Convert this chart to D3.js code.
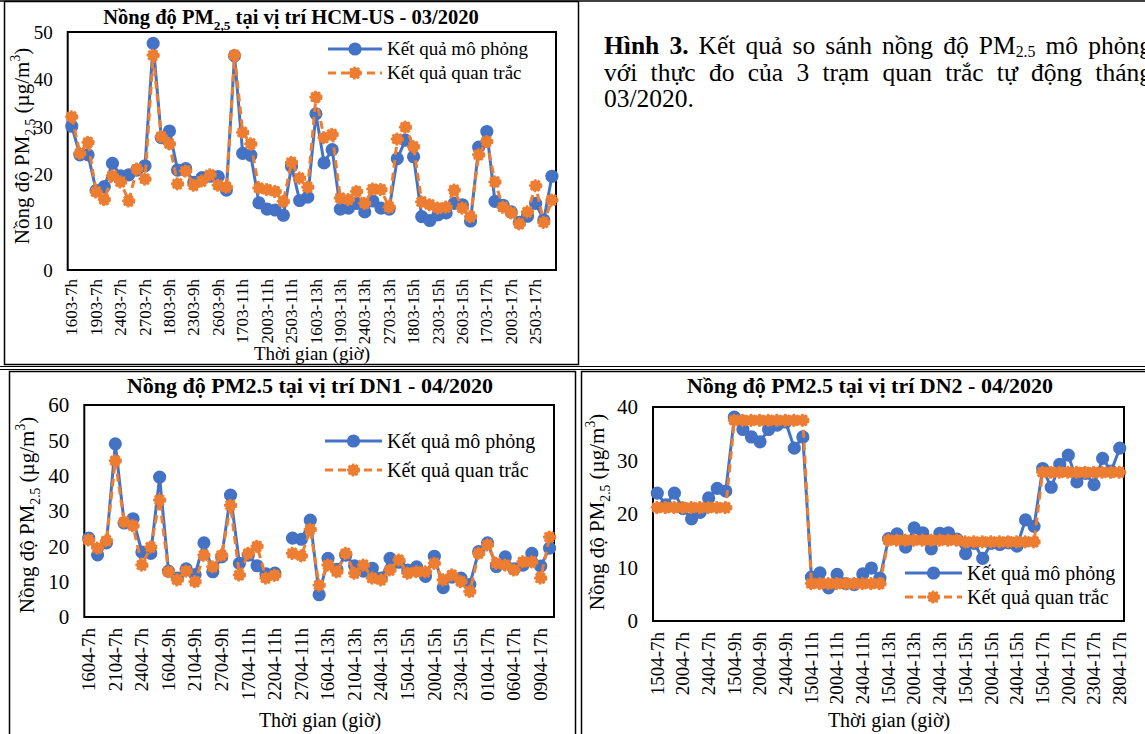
<!DOCTYPE html>
<html>
<head>
<meta charset="utf-8">
<script src="https://cdn.jsdelivr.net/npm/d3@7"></script>
<style>
body{margin:0;width:1145px;height:734px;overflow:hidden;background:#fff;position:relative;font-family:"Liberation Serif","Times New Roman",serif;}
svg{position:absolute;left:0;top:0;}
#caption{position:absolute;left:604px;top:33px;width:548px;font-size:25.5px;line-height:26.5px;text-align:justify;color:#000;}
#caption sub{font-size:0.62em;vertical-align:-0.2em;line-height:0;}
</style>
</head>
<body>
<svg id="fig" width="1145" height="734"></svg>
<div id="caption"><b>Hình 3.</b> Kết quả so sánh nồng độ PM<sub>2.5</sub> mô phỏng với thực đo của 3 trạm quan trắc tự động tháng 03/2020.</div>
<script>
// ---- HCM-US, 03/2020 ----
var hcmCats = [
  "1603-7h","1703-7h","1803-7h","1903-7h","2003-7h","2303-7h","2403-7h","2503-7h","2603-7h","2703-7h",
  "1603-9h","1703-9h","1803-9h","1903-9h","2003-9h","2303-9h","2403-9h","2503-9h","2603-9h","2703-9h",
  "1603-11h","1703-11h","1803-11h","1903-11h","2003-11h","2303-11h","2403-11h","2503-11h","2603-11h","2703-11h",
  "1603-13h","1703-13h","1803-13h","1903-13h","2003-13h","2303-13h","2403-13h","2503-13h","2603-13h","2703-13h",
  "1603-15h","1703-15h","1803-15h","1903-15h","2003-15h","2303-15h","2403-15h","2503-15h","2603-15h","2703-15h",
  "1603-17h","1703-17h","1803-17h","1903-17h","2003-17h","2303-17h","2403-17h","2503-17h","2603-17h","2703-17h"
];
var hcmModel = [30.2,24.2,24.2,16.7,17.5,22.4,19.8,20,21,21.9,
  47.6,27.8,29.2,21,21.3,18.4,19.4,19.7,19.6,16.8,
  45,24.5,24.1,14.1,12.8,12.6,11.5,21.8,14.6,15.3,
  32.8,22.5,25.3,12.8,13,14,12.2,14.5,13,12.8,
  23.4,27.3,23.8,11.2,10.4,11.6,12,14,13.7,10.3,
  25.8,29.1,14.4,13.6,12.2,10,11.3,14,10.5,19.7];
var hcmObs = [32.2,24.5,26.8,16.4,14.8,19.8,18.5,14.5,21.2,19.1,
  45.1,28,26.5,18.1,20.8,17.8,18.7,20,17.8,17.4,
  45.1,28.9,26.5,17.2,16.9,16.5,14.4,22.6,19.3,17.4,
  36.3,27.8,28.5,15.1,14.8,16.5,14,17,16.9,13.2,
  27.5,30,25.9,14.3,13.7,13,13.2,16.8,13,11.2,
  24.2,27,18.5,13.2,12,9.7,12.2,17.7,10,14.7];
var hcmYTicks = [0,10,20,30,40,50];

// ---- DN1, 04/2020 ----
var dn1Cats = [
  "1604-7h","1704-7h","2004-7h","2104-7h","2204-7h","2304-7h","2404-7h","2704-7h","2804-7h",
  "1604-9h","1704-9h","2004-9h","2104-9h","2204-9h","2404-9h","2704-9h","2804-9h",
  "1604-11h","1704-11h","2004-11h","2104-11h","2204-11h","2304-11h","2404-11h","2704-11h","2804-11h","2904-11h",
  "1604-13h","1704-13h","2004-13h","2104-13h","2204-13h","2304-13h","2404-13h","2704-13h","2804-13h",
  "1504-15h","1604-15h","1704-15h","2004-15h","2104-15h","2204-15h","2304-15h","2404-15h","2704-15h",
  "0104-17h","0204-17h","0304-17h","0604-17h","0704-17h","0804-17h","0904-17h","1004-17h"
];
var dn1Model = [22.3,17.6,21,49,26.6,27.8,18.4,18,39.6,13,
  11,13.6,12,21,12.8,17,34.5,15.2,17.5,14.5,
  12.2,12.4,null,22.3,22,27.4,6.3,16.6,13.5,17.5,
  14.5,13,13.8,11,16.6,15.5,13.3,14.2,11.5,17.2,
  8.3,11.3,11,9.2,18.5,21,14.3,17,13.6,14.7,
  18,14.4,19.5];
var dn1Obs = [21.8,19.5,21.6,44.2,26.9,25.8,14.7,19.8,33.1,12.8,
  10.5,13,10,17.5,14.2,17.5,31.6,11.9,18,20,
  11,11.8,null,18,17.3,24.8,9,14.7,12.8,18,
  12.4,14.7,11,10.5,13.3,16.1,12.4,12.8,12.8,15.2,
  10.5,11.9,10,7.2,18,20.4,15.2,14.7,13.3,15.6,
  15.6,11,22.6];
var dn1YTicks = [0,10,20,30,40,50,60];

// ---- DN2, 04/2020 ----
var dn2Cats = [
  "1504-7h","1604-7h","1704-7h","2004-7h","2104-7h","2204-7h","2404-7h","2704-7h","2804-7h",
  "1504-9h","1604-9h","1704-9h","2004-9h","2104-9h","2204-9h","2404-9h","2704-9h","2804-9h",
  "1504-11h","1604-11h","1704-11h","2004-11h","2104-11h","2204-11h","2404-11h","2704-11h","2804-11h",
  "1504-13h","1604-13h","1704-13h","2004-13h","2104-13h","2204-13h","2404-13h","2704-13h","2804-13h",
  "1504-15h","1604-15h","1704-15h","2004-15h","2104-15h","2204-15h","2404-15h","2704-15h","2804-15h",
  "1504-17h","1604-17h","1704-17h","2004-17h","2104-17h","2204-17h","2304-17h","2404-17h","2704-17h","2804-17h"
];
var dn2Model = [23.9,21.7,23.9,21,19.1,20.3,23,24.8,24.3,
  38.1,35.8,34.4,33.5,35.8,36.6,37.2,32.3,34.4,
  8.2,9,6.2,8.7,7,6.8,8.8,9.9,8,
  15.4,16.3,13.8,17.4,16.5,13.5,16.4,16.5,15.3,
  12.6,14.5,11.7,14.5,14.3,14.6,14,18.9,17.7,
  28.5,25,29.3,31,26,27.6,25.5,30.4,28,32.3];
var dn2Obs = [21.2,21.2,21.2,21.2,21.2,21.2,21.2,21.2,21.2,
  37.5,37.5,37.5,37.5,37.5,37.5,37.5,37.5,37.5,
  7,7,7,7,7,7,7,7,7,
  15.1,15.1,15.1,15.1,15.1,15.1,15.1,15.1,15.1,
  14.8,14.8,14.8,14.8,14.8,14.8,14.8,14.8,14.8,
  27.8,27.8,27.8,27.8,27.8,27.8,27.8,27.8,27.8,27.8];
var dn2YTicks = [0,10,20,30,40];

var seriesNames = ["Kết quả mô phỏng", "Kết quả quan trắc"];
var xTitle = "Thời gian (giờ)";

var BLUE = "#4472C4", ORANGE = "#ED7D31";

var svg = d3.select("#fig").attr("font-family","Liberation Serif");

// frames of the word table
svg.append("line").attr("x1",0).attr("x2",1145).attr("y1",1).attr("y2",1).attr("stroke","#000").attr("stroke-width",1.5);
svg.append("rect").attr("x",4.5).attr("y",1.5).attr("width",574).attr("height",363).attr("fill","none").attr("stroke","#000").attr("stroke-width",1.5);
svg.append("line").attr("x1",0).attr("x2",1145).attr("y1",366.5).attr("y2",366.5).attr("stroke","#000").attr("stroke-width",1);
svg.append("line").attr("x1",0).attr("x2",1145).attr("y1",369.5).attr("y2",369.5).attr("stroke","#000").attr("stroke-width",1);
svg.append("rect").attr("x",9.5).attr("y",371.5).attr("width",566).attr("height",370).attr("fill","none").attr("stroke","#000").attr("stroke-width",1.5);
svg.append("rect").attr("x",581.5).attr("y",371.5).attr("width",570).attr("height",370).attr("fill","none").attr("stroke","#000").attr("stroke-width",1.5);

function rich(txt, parts, fs){
  var shift = 0;
  parts.forEach(function(p){
    var t = txt.append("tspan").text(p[0]);
    var target = 0;
    if(p[1]==="sub"){ target = 0.3*fs; t.attr("font-size", (fs*0.65)+"px"); }
    if(p[1]==="sup"){ target = -0.42*fs; t.attr("font-size", (fs*0.65)+"px"); }
    if(target !== shift){ t.attr("dy", target - shift); shift = target; }
  });
}

function drawChart(c){
  var g = svg.append("g");
  var x = d3.scaleBand().domain(c.cats).range([c.left, c.right]);
  var y = d3.scaleLinear().domain([0, c.yMax]).range([c.bottom, c.top]);

  // y axis labels
  var ya = g.append("g").attr("transform","translate("+c.left+",0)")
    .call(d3.axisLeft(y).tickValues(c.yTicks).tickSize(0).tickPadding(15));
  ya.attr("font-family","Liberation Serif");
  ya.select(".domain").remove();
  ya.selectAll("text").attr("font-size",c.tickFs).attr("fill","#000");

  // x axis labels, every 3rd category
  var xa = g.append("g").attr("transform","translate(0,"+c.bottom+")")
    .call(d3.axisBottom(x).tickValues(c.cats.filter(function(d,i){ return i%3===0; })).tickSize(0));
  xa.attr("font-family","Liberation Serif");
  xa.select(".domain").remove();
  xa.selectAll("text")
    .attr("font-size",c.xFs).attr("fill","#000")
    .attr("text-anchor","end").attr("dy","0.33em")
    .attr("transform","translate(0,"+c.xPad+") rotate(-90)")
    .attr("y",0).attr("x",0);

  // plot frame
  g.append("rect").attr("x",c.left).attr("y",c.top).attr("width",c.right-c.left).attr("height",c.bottom-c.top)
    .attr("fill","none").attr("stroke","#000").attr("stroke-width",2);

  var cx = function(i){ return x(c.cats[i]) + x.bandwidth()/2; };
  var line = d3.line().defined(function(d){ return d!==null; })
    .x(function(d,i){ return cx(i); }).y(function(d){ return y(d); });

  [[c.model, BLUE, null],[c.obs, ORANGE, "8,5"]].forEach(function(s){
    g.append("path").datum(s[0]).attr("d",line).attr("fill","none")
      .attr("stroke",s[1]).attr("stroke-width",3).attr("stroke-dasharray",s[2]);
    g.selectAll(null).data(s[0].map(function(v,i){ return [i,v]; }).filter(function(d){ return d[1]!==null; }))
      .enter().append("circle")
      .attr("cx",function(d){ return cx(d[0]); }).attr("cy",function(d){ return y(d[1]); })
      .attr("r",5.6).attr("fill",s[1]).attr("stroke",s[1]).attr("stroke-width",2)
      .attr("stroke-dasharray",s[2] ? "2.5,1.5" : null);
  });

  // legend
  [[BLUE,null],[ORANGE,"8,5"]].forEach(function(s,k){
    var ly = c.legY[k];
    g.append("line").attr("x1",c.legX[0]).attr("x2",c.legX[1]).attr("y1",ly).attr("y2",ly)
      .attr("stroke",s[0]).attr("stroke-width",3).attr("stroke-dasharray",s[1]);
    g.append("circle").attr("cx",(c.legX[0]+c.legX[1])/2).attr("cy",ly).attr("r",5.6)
      .attr("fill",s[0]).attr("stroke",s[0]).attr("stroke-width",2).attr("stroke-dasharray",s[1]?"2.5,1.5":null);
    g.append("text").attr("x",c.legX[1]+5).attr("y",ly).attr("dy","0.33em")
      .attr("font-size",c.legFs).attr("fill","#000").text(seriesNames[k]);
  });

  // titles
  var t = g.append("text").attr("x",c.titleX).attr("y",c.titleY).attr("text-anchor","middle")
    .attr("font-size",c.titleFs).attr("font-weight","bold").attr("fill","#000");
  rich(t, c.titleParts, c.titleFs);

  var yt = g.append("text").attr("transform","translate("+c.yTitleX+","+c.yTitleY+") rotate(-90)")
    .attr("text-anchor","middle").attr("font-size",c.yTitleFs).attr("fill","#000");
  rich(yt, c.yTitleParts, c.yTitleFs);

  g.append("text").attr("x",c.xTitleX).attr("y",c.xTitleY).attr("text-anchor","middle")
    .attr("font-size",c.xTitleFs).attr("fill","#000").text(xTitle);
}

drawChart({
  cats: hcmCats, model: hcmModel, obs: hcmObs, yTicks: hcmYTicks, yMax: 50,
  left: 67.7, right: 556, top: 32, bottom: 270,
  tickFs: 19, xFs: 17, xPad: 9, legFs: 19,
  legX: [328, 382], legY: [49, 73],
  titleX: 291, titleY: 24, titleFs: 20.5,
  titleParts: [["Nồng độ PM"],["2,5","sub"],[" tại vị trí HCM-US - 03/2020"]],
  yTitleX: 29, yTitleY: 146, yTitleFs: 21,
  yTitleParts: [["Nồng độ PM"],["2,5","sub"],[" (µg/m"],["3","sup"],[")"]],
  xTitleX: 312, xTitleY: 360, xTitleFs: 19
});

drawChart({
  cats: dn1Cats, model: dn1Model, obs: dn1Obs, yTicks: dn1YTicks, yMax: 60,
  left: 84.3, right: 554, top: 405, bottom: 617,
  tickFs: 21, xFs: 19, xPad: 11, legFs: 20,
  legX: [325, 382], legY: [441, 470],
  titleX: 310, titleY: 393, titleFs: 22,
  titleParts: [["Nồng độ PM2.5 tại vị trí DN1 - 04/2020"]],
  yTitleX: 34, yTitleY: 515, yTitleFs: 21,
  yTitleParts: [["Nồng độ PM"],["2.5","sub"],[" (µg/m"],["3","sup"],[")"]],
  xTitleX: 320, xTitleY: 727, xTitleFs: 20
});

drawChart({
  cats: dn2Cats, model: dn2Model, obs: dn2Obs, yTicks: dn2YTicks, yMax: 40,
  left: 653, right: 1124, top: 407, bottom: 621,
  tickFs: 21, xFs: 19, xPad: 11, legFs: 20,
  legX: [905, 962], legY: [573, 597],
  titleX: 870, titleY: 393, titleFs: 22,
  titleParts: [["Nồng độ PM2.5 tại vị trí DN2 - 04/2020"]],
  yTitleX: 604, yTitleY: 512, yTitleFs: 21,
  yTitleParts: [["Nồng độ PM"],["2.5","sub"],[" (µg/m"],["3","sup"],[")"]],
  xTitleX: 889, xTitleY: 727, xTitleFs: 20
});
</script>
</body>
</html>
